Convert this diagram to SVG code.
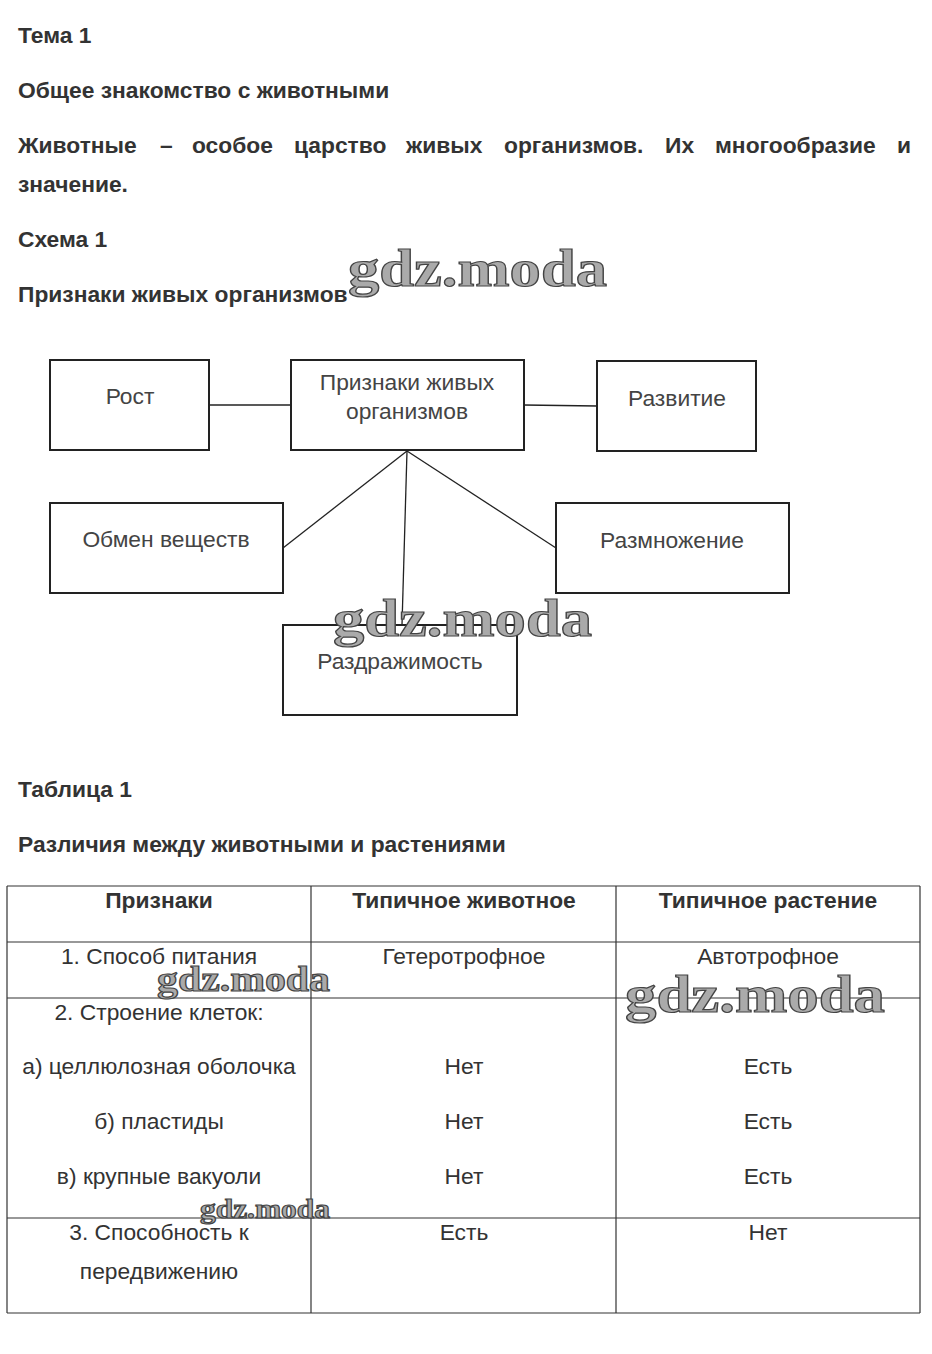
<svg xmlns="http://www.w3.org/2000/svg" width="932" height="1354" viewBox="0 0 932 1354">
<style>
.h{font-family:"Liberation Sans",Arial,sans-serif;font-weight:bold;font-size:22.8px;fill:#333}
.n{font-family:"Liberation Sans",Arial,sans-serif;font-size:22.8px;fill:#444;text-anchor:middle}
.t{font-family:"Liberation Sans",Arial,sans-serif;font-size:22.8px;fill:#333;text-anchor:middle}
.tb{font-family:"Liberation Sans",Arial,sans-serif;font-size:22.8px;font-weight:bold;fill:#333;text-anchor:middle}
.box{fill:#fff;stroke:#222;stroke-width:2}
.c{stroke:#222;stroke-width:1.3;fill:none}
.g{stroke:#333;stroke-width:1.2}
.wm{font-family:"Liberation Serif","Times New Roman",serif;font-weight:bold;fill:#aaa;stroke:#444;stroke-width:1.2}
</style>
<rect width="932" height="1354" fill="#fff"/>
<g id="heading">
<text class="h" x="18" y="43">Тема 1</text>
<text class="h" x="18" y="98">Общее знакомство с животными</text>
<text class="h" y="153"><tspan x="18">Животные</tspan><tspan x="160">–</tspan><tspan x="192">особое</tspan><tspan x="294">царство</tspan><tspan x="406">живых</tspan><tspan x="504">организмов.</tspan><tspan x="665">Их</tspan><tspan x="715">многообразие</tspan><tspan x="897">и</tspan></text>
<text class="h" x="18" y="192">значение.</text>
<text class="h" x="18" y="247">Схема 1</text>
<text class="h" x="18" y="302">Признаки живых организмов</text>
</g>
<g id="connectors">
<line class="c" x1="209" y1="405" x2="291" y2="405"/>
<line class="c" x1="524" y1="405" x2="597" y2="406"/>
<line class="c" x1="407" y1="451" x2="283" y2="548"/>
<line class="c" x1="407" y1="451" x2="556" y2="548"/>
<line class="c" x1="407" y1="451" x2="402" y2="625"/>
</g>
<g id="node-rost"><rect class="box" x="50" y="360" width="159" height="90"/><text class="n" x="130" y="404">Рост</text></g>
<g id="node-center"><rect class="box" x="291" y="360" width="233" height="90"/><text class="n" x="407" y="390">Признаки живых</text><text class="n" x="407" y="419">организмов</text></g>
<g id="node-razvitie"><rect class="box" x="597" y="361" width="159" height="90"/><text class="n" x="677" y="406">Развитие</text></g>
<g id="node-obmen"><rect class="box" x="50" y="503" width="233" height="90"/><text class="n" x="166" y="547">Обмен веществ</text></g>
<g id="node-razmnozhenie"><rect class="box" x="556" y="503" width="233" height="90"/><text class="n" x="672" y="548">Размножение</text></g>
<g id="node-razdrazhimost"><rect class="box" x="283" y="625" width="234" height="90"/><text class="n" x="400" y="669">Раздражимость</text></g>
<g id="table-title">
<text class="h" x="18" y="797">Таблица 1</text>
<text class="h" x="18" y="852">Различия между животными и растениями</text>
</g>
<g id="table">
<line class="g" x1="7" y1="886" x2="920" y2="886"/>
<line class="g" x1="7" y1="942" x2="920" y2="942"/>
<line class="g" x1="7" y1="998" x2="920" y2="998"/>
<line class="g" x1="7" y1="1218" x2="920" y2="1218"/>
<line class="g" x1="7" y1="1313" x2="920" y2="1313"/>
<line class="g" x1="7" y1="886" x2="7" y2="1313"/>
<line class="g" x1="311" y1="886" x2="311" y2="1313"/>
<line class="g" x1="616" y1="886" x2="616" y2="1313"/>
<line class="g" x1="920" y1="886" x2="920" y2="1313"/>
<text class="tb" x="159" y="908">Признаки</text>
<text class="tb" x="464" y="908">Типичное животное</text>
<text class="tb" x="768" y="908">Типичное растение</text>
<text class="t" x="159" y="964">1. Способ питания</text>
<text class="t" x="464" y="964">Гетеротрофное</text>
<text class="t" x="768" y="964">Автотрофное</text>
<text class="t" x="159" y="1020">2. Строение клеток:</text>
<text class="t" x="159" y="1074">а) целлюлозная оболочка</text>
<text class="t" x="464" y="1074">Нет</text>
<text class="t" x="768" y="1074">Есть</text>
<text class="t" x="159" y="1129">б) пластиды</text>
<text class="t" x="464" y="1129">Нет</text>
<text class="t" x="768" y="1129">Есть</text>
<text class="t" x="159" y="1184">в) крупные вакуоли</text>
<text class="t" x="464" y="1184">Нет</text>
<text class="t" x="768" y="1184">Есть</text>
<text class="t" x="159" y="1240">3. Способность к</text>
<text class="t" x="159" y="1279">передвижению</text>
<text class="t" x="464" y="1240">Есть</text>
<text class="t" x="768" y="1240">Нет</text>
</g>
<g id="watermarks">
<text class="wm" x="348" y="286" font-size="52" textLength="259" lengthAdjust="spacingAndGlyphs">gdz.moda</text>
<text class="wm" x="333" y="636" font-size="52" textLength="259" lengthAdjust="spacingAndGlyphs">gdz.moda</text>
<text class="wm" x="157" y="991" font-size="36" stroke-width="0.8" textLength="173" lengthAdjust="spacingAndGlyphs">gdz.moda</text>
<text class="wm" x="625" y="1012" font-size="52" textLength="260" lengthAdjust="spacingAndGlyphs">gdz.moda</text>
<text class="wm" x="200" y="1218" font-size="28" stroke-width="0.6" textLength="130" lengthAdjust="spacingAndGlyphs">gdz.moda</text>
</g>
</svg>
